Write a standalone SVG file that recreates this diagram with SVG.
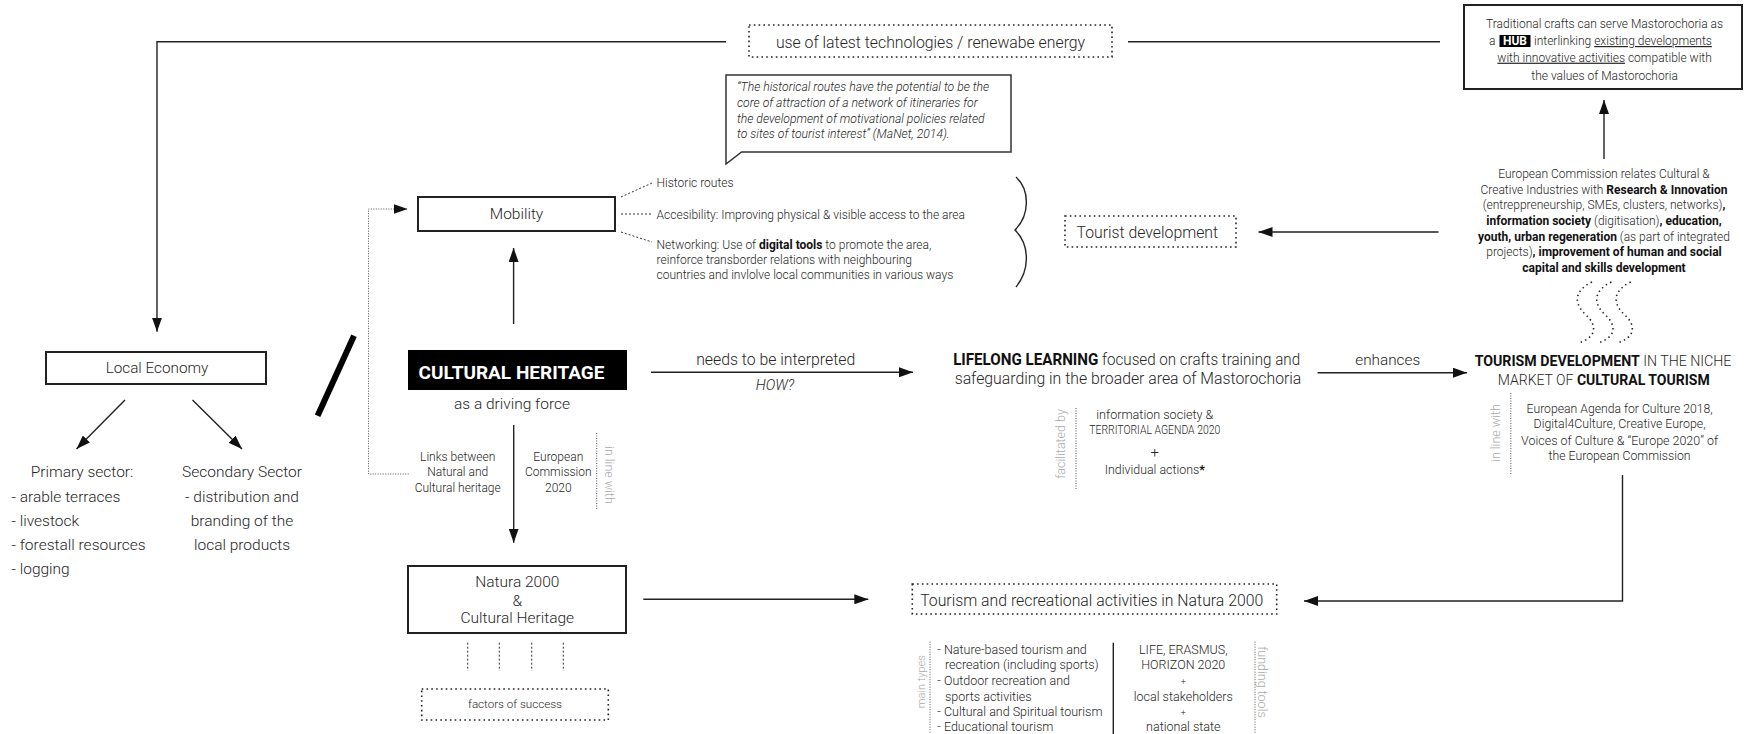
<svg xmlns="http://www.w3.org/2000/svg" width="1754" height="734" viewBox="0 0 1754 734">
<defs>
<style>
text{font-family:Roboto,"Noto Sans",sans-serif;fill:#262626;font-weight:300;}
.c{text-anchor:middle;}
.b{font-weight:700;fill:#111;}
.it{font-style:italic;}
.g{fill:#aaa;}
.s12{font-size:12px;}
.s15{font-size:15.5px;}
.box{fill:#fff;stroke:#222;stroke-width:2;}
.dbox{fill:none;stroke:#222;stroke-width:1.6;stroke-dasharray:1.6 3.2;}
.ln{fill:none;stroke:#222;stroke-width:1.4;}
.dash{fill:none;stroke:#333;stroke-width:1;stroke-dasharray:2 2;}
.dot{fill:none;stroke:#555;stroke-width:1;stroke-dasharray:1 1.5;}
.u{text-decoration:underline;}
</style>
<marker id="ah" viewBox="0 0 14 10" refX="14" refY="5" markerWidth="14" markerHeight="10" markerUnits="userSpaceOnUse" orient="auto"><path d="M0,0 L14,5 L0,10 z" fill="#111"/></marker>
</defs>

<g id="connectors">
<path class="ln" d="M726,41.7 H157 V331.7" marker-end="url(#ah)"/>
<path class="ln" d="M1128,41.7 H1440" stroke="#555"/>
<path class="dot" d="M408.7,474 H368.5 V209 H407.6" marker-end="url(#ah)"/>
<path class="ln" d="M513.6,324 V248" marker-end="url(#ah)"/>
<path class="ln" d="M513.7,425 V542.7" marker-end="url(#ah)"/>
<path class="ln" d="M651,372.3 H913" marker-end="url(#ah)"/>
<path class="ln" d="M1317.6,372.7 H1467" marker-end="url(#ah)"/>
<path class="ln" d="M1604,159 V100" marker-end="url(#ah)"/>
<path class="ln" d="M1438.6,232 H1258.5" marker-end="url(#ah)"/>
<path class="ln" d="M1622.5,475 V601 H1304" marker-end="url(#ah)"/>
<path class="ln" d="M643.3,599.3 H868.3" marker-end="url(#ah)"/>
<path class="ln" d="M125,400 L76.5,449" marker-end="url(#ah)"/>
<path class="ln" d="M192.5,400 L242,449" marker-end="url(#ah)"/>
<path class="dash" d="M621,197 L652,183 M621,214 H652 M621,232 L652,242"/>
<path class="dash" d="M467.7,642.7 V671 M499.3,642.7 V671 M531.7,642.7 V671 M563.3,642.7 V671"/>
<path d="M317.6,415.7 L354,335.7" stroke="#000" stroke-width="6" fill="none"/>
<path class="ln" d="M1016,177 C1030,190 1030,215 1015,230 C1030,245 1030,270 1016,287"/>
<g fill="none" stroke="#222" stroke-width="1.6" stroke-dasharray="1.4 3.4">
<path d="M1592,282 C1572,292 1575,305 1586,315 C1598,326 1596,338 1578,343"/>
<path d="M1611.4,282 C1591.4,292 1594.4,305 1605.4,315 C1617.4,326 1615.4,338 1597.4,343"/>
<path d="M1630.8,282 C1610.8,292 1613.8,305 1624.8,315 C1636.8,326 1634.8,338 1616.8,343"/>
</g>
</g>

<g id="tech">
<rect class="dbox" x="749" y="25" width="363" height="32"/>
<text class="c" font-size="15.8" x="930.5" y="47.5">use of latest technologies / renewabe energy</text>
</g>

<g id="quote">
<path d="M741.6,152 L1011,152 L1011,75 L726,75 L726,164 Z" fill="#fff" stroke="#333" stroke-width="1.5"/>
<text class="it" font-size="12.2" x="737"><tspan x="737" y="90.5">“The historical routes have the potential to be the</tspan><tspan x="737" y="106.5">core of attraction of a network of itineraries for</tspan><tspan x="737" y="122.5">the development of motivational policies related</tspan><tspan x="737" y="138">to sites of tourist interest” (MaNet, 2014).</tspan></text>
</g>

<g id="hub">
<rect class="box" x="1464" y="5" width="278" height="84"/>
<text class="c s12" x="1604.6" y="28">Traditional crafts can serve Mastorochoria as</text>
<text class="s12" x="1489" y="45">a</text>
<rect x="1499.5" y="35" width="31" height="12" fill="#000"/>
<text class="c s12" x="1515" y="45" style="font-weight:700;fill:#fff">HUB</text>
<text class="s12" x="1534" y="45">interlinking <tspan class="u">existing developments </tspan></text>
<text class="c s12" x="1604.6" y="61.7"><tspan class="u">with innovative activities</tspan> compatible with</text>
<text class="c s12" x="1604.6" y="80">the values of Mastorochoria</text>
</g>

<g id="ec">
<text class="c s12" x="1604" y="178">European Commission relates Cultural &amp;</text>
<text class="c s12" x="1604" y="194">Creative Industries with <tspan class="b">Research &amp; Innovation</tspan></text>
<text class="c s12" x="1604" y="209">(entreppreneurship, SMEs, clusters, networks)<tspan class="b">,</tspan></text>
<text class="c s12" x="1604" y="225"><tspan class="b">information society</tspan> (digitisation)<tspan class="b">, education,</tspan></text>
<text class="c s12" x="1604" y="240.7"><tspan class="b">youth, urban regeneration</tspan> (as part of integrated</text>
<text class="c s12" x="1604" y="255.7">projects)<tspan class="b">, improvement of human and social</tspan></text>
<text class="c s12" x="1604" y="271.7"><tspan class="b">capital and skills development</tspan></text>
</g>

<g id="mobility">
<rect class="box" x="418" y="197" width="197" height="34"/>
<text class="c s15" x="516.5" y="218.5">Mobility</text>
</g>

<g id="mobility-items">
<text class="s12" x="656.6" y="187">Historic routes</text>
<text class="s12" x="656.6" y="219">Accesibility: Improving physical &amp; visible access to the area</text>
<text class="s12" x="656.6" y="248.5">Networking: Use of <tspan class="b">digital tools</tspan> to promote the area,</text>
<text class="s12" x="656.6" y="263.5">reinforce transborder relations with neighbouring</text>
<text class="s12" x="656.6" y="279">countries and invlolve local communities in various ways</text>
</g>

<g id="tourist-dev">
<rect class="dbox" x="1065" y="216" width="171" height="31"/>
<text font-size="15.8" x="1076.5" y="237.5">Tourist development</text>
</g>

<g id="local-economy">
<rect class="box" x="46" y="352" width="220" height="32"/>
<text class="c" x="157" y="373" font-size="15.3">Local Economy</text>
</g>

<g id="primary">
<text class="c s15" x="82" y="476.7">Primary sector:</text>
<text class="s15" x="11.5" y="501.7">- arable terraces</text>
<text class="s15" x="11.5" y="525.7">- livestock</text>
<text class="s15" x="11.5" y="550">- forestall resources</text>
<text class="s15" x="11.5" y="574">- logging</text>
</g>

<g id="secondary">
<text class="c s15" x="242" y="476.7">Secondary Sector</text>
<text class="c s15" x="242" y="501.7">- distribution and</text>
<text class="c s15" x="242" y="525.7">branding of the</text>
<text class="c s15" x="242" y="550">local products</text>
</g>

<g id="cultural-heritage">
<rect x="408" y="350" width="219" height="40" fill="#000"/>
<text class="c" x="511.5" y="378.5" font-size="19" style="font-weight:700;fill:#fff">CULTURAL HERITAGE</text>
<text class="c s15" x="512" y="408.5">as a driving force</text>
<text class="c s12" x="457.7"><tspan x="457.7" y="461">Links between</tspan><tspan x="457.7" y="476">Natural and</tspan><tspan x="457.7" y="491.5">Cultural heritage</tspan></text>
<text class="c s12" x="558.3"><tspan x="558.3" y="461">European</tspan><tspan x="558.3" y="476">Commission</tspan><tspan x="558.3" y="491.5">2020</tspan></text>
<path class="dot" d="M596.7,433 V510"/>
<text class="c g" font-size="12.5" transform="translate(605,475) rotate(90)" x="0" y="0">in line with</text>
</g>

<g id="interpret">
<text class="c" font-size="15.8" x="775.7" y="365">needs to be interpreted</text>
<text class="c it" x="775" y="389.5" font-size="14.5">HOW?</text>
</g>

<g id="lifelong">
<text class="c" font-size="15.8" transform="translate(1126.6,365) scale(0.96,1)" x="0" y="0"><tspan class="b">LIFELONG LEARNING</tspan> focused on crafts training and</text>
<text class="c" font-size="15.8" x="1128" y="384">safeguarding in the broader area of Mastorochoria</text>
<path class="dot" d="M1076,408 V490"/>
<text class="c g" font-size="12.5" transform="translate(1065,444) rotate(-90)" x="0" y="0">facilitated by</text>
<text class="c" x="1154.8" y="419" font-size="12" textLength="117" lengthAdjust="spacingAndGlyphs">information society &amp;</text>
<text class="c" x="1154.8" y="434" font-size="12" textLength="131" lengthAdjust="spacingAndGlyphs">TERRITORIAL AGENDA 2020</text>
<text class="c" x="1154.8" y="456.5" font-size="15">+</text>
<text class="c" x="1154.8" y="474" font-size="12.4">Individual actions<tspan class="b">*</tspan></text>
</g>

<g id="enhances">
<text class="c" font-size="15.3" x="1387.7" y="365">enhances</text>
</g>

<g id="tourism-dev">
<text class="c" font-size="15.5" transform="translate(1603,365.5) scale(0.915,1)" x="0" y="0"><tspan class="b">TOURISM DEVELOPMENT</tspan> IN THE NICHE</text>
<text class="c" font-size="15.5" transform="translate(1603.7,384.5) scale(0.905,1)" x="0" y="0">MARKET OF <tspan class="b">CULTURAL TOURISM</tspan></text>
<path class="dot" d="M1510.8,393 V475"/>
<text class="c g" font-size="12.5" transform="translate(1499.5,433) rotate(-90)" x="0" y="0">in line with</text>
<text class="c" font-size="12.3" x="1619.6" y="413" textLength="186" lengthAdjust="spacingAndGlyphs">European Agenda for Culture 2018,</text>
<text class="c" font-size="12.3" x="1619.6" y="428" textLength="172" lengthAdjust="spacingAndGlyphs">Digital4Culture, Creative Europe,</text>
<text class="c" font-size="12.3" x="1619.6" y="445" textLength="197" lengthAdjust="spacingAndGlyphs">Voices of Culture &amp; “Europe 2020” of</text>
<text class="c" font-size="12.3" x="1619.6" y="460" textLength="142" lengthAdjust="spacingAndGlyphs">the European Commission</text>
</g>

<g id="natura">
<rect class="box" x="408" y="566" width="218" height="67"/>
<text class="c s15" x="517.3" y="587">Natura 2000</text>
<text class="c s15" x="517.3" y="606">&amp;</text>
<text class="c s15" x="517.3" y="622.5">Cultural Heritage</text>
</g>

<g id="factors">
<rect class="dbox" x="421.7" y="689" width="186.6" height="31"/>
<text class="c" font-size="11.6" x="515" y="707.5">factors of success</text>
</g>

<g id="tourism-natura">
<rect class="dbox" x="912.3" y="584" width="364.4" height="30"/>
<text class="c" x="1091.7" y="605.5" font-size="15.8">Tourism and recreational activities in Natura 2000</text>
<path class="dot" d="M930,641.7 V734"/>
<text class="c g" font-size="11" transform="translate(925,681.7) rotate(-90)" x="0" y="0">main types</text>
<g font-size="12.5">
<text x="937.3" y="653.5">- Nature-based tourism and</text>
<text x="945" y="669.3">recreation (including sports)</text>
<text x="937.3" y="685">- Outdoor recreation and</text>
<text x="945" y="701">sports activities</text>
<text x="937.3" y="716">- Cultural and Spiritual tourism</text>
<text x="937.3" y="731">- Educational tourism</text>
</g>
<path class="ln" d="M1113.3,642.7 V734"/>
<g font-size="12.5">
<text class="c" x="1183.3" y="653.5">LIFE, ERASMUS,</text>
<text class="c" x="1183.3" y="669.3">HORIZON 2020</text>
<text class="c" x="1183.3" y="685" font-size="9">+</text>
<text class="c" x="1183.3" y="701">local stakeholders</text>
<text class="c" x="1183.3" y="716" font-size="9">+</text>
<text class="c" x="1183.3" y="731">national state</text>
</g>
<path class="dot" d="M1255,641.7 V734"/>
<text class="c g" font-size="12.5" transform="translate(1257.5,682) rotate(90)" x="0" y="0">funding tools</text>
</g>
</svg>
